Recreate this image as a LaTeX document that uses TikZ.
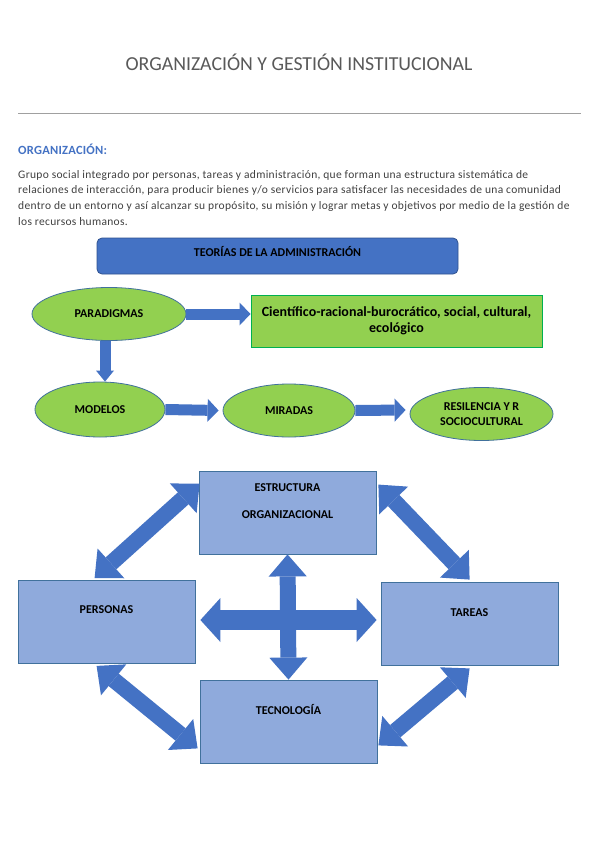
\documentclass[tikz,border=0pt]{standalone}
\usepackage{fontspec}
\setmainfont{Carlito}
\usetikzlibrary{arrows.meta,shapes.geometric,calc}
\definecolor{titlegray}{HTML}{595959}
\definecolor{rulegray}{HTML}{A0A0A0}
\definecolor{textgray}{HTML}{404040}
\definecolor{mainblue}{HTML}{4472C4}
\definecolor{darkblue}{HTML}{2F528F}
\definecolor{boxblue}{HTML}{8FAADC}
\definecolor{leaf}{HTML}{92D050}
\definecolor{ellline}{HTML}{41719C}
\definecolor{brightgreen}{HTML}{00B050}
\begin{document}
\begin{tikzpicture}[x=1pt,y=-1pt,
  lbl/.style={font=\bfseries\fontsize{12}{14}\selectfont, text=black},
  ell/.style={ellipse, draw=ellline, fill=leaf, line width=0.8pt, inner sep=0pt, align=center, lbl},
  sqbox/.style={rectangle, draw=ellline, fill=boxblue, line width=0.8pt, minimum width=177pt, minimum height=83pt, inner sep=0pt},
  para/.style={anchor=west, inner sep=0pt, text=textgray, font=\fontsize{11.5}{14}\selectfont\addfontfeatures{LetterSpace=2.7}},
  smallarrow/.style={draw=mainblue, line width=11pt, -{Triangle[width=23pt,length=11pt,line width=0pt]}},
  bigarrow/.style={draw=mainblue, line width=16pt, {Triangle[width=40pt,length=22pt,line width=0pt]}-{Triangle[width=40pt,length=22pt,line width=0pt]}},
  crossarrow/.style={draw=mainblue, line width=20pt, {Triangle[width=44pt,length=20pt,line width=0pt]}-{Triangle[width=44pt,length=20pt,line width=0pt]}}
]
\useasboundingbox[fill=white] (0,0) rectangle (599,848);

% title and rule
\node[text=titlegray, font=\fontsize{19.8}{24}\selectfont, inner sep=0pt] (title) at (299,62) {ORGANIZACIÓN Y GESTIÓN INSTITUCIONAL};
\coordinate (ruleL) at (18,113);
\coordinate (ruleR) at (581,113);
\draw[rulegray, line width=0.8pt] (ruleL) -- (ruleR);

% heading and paragraph
\node[anchor=west, inner sep=0pt, text=mainblue, font=\bfseries\fontsize{12.5}{14}\selectfont\addfontfeatures{LetterSpace=2}] (head) at (18,149) {ORGANIZACIÓN:};
\node[para] (p1) at (18,175) {Grupo social integrado por personas, tareas y administración, que forman una estructura sistemática de};
\node[para] (p2) at (18,190.5) {relaciones de interacción, para producir bienes y/o servicios para satisfacer las necesidades de una comunidad};
\node[para] (p3) at (18,206) {dentro de un entorno y así alcanzar su propósito, su misión y lograr metas y objetivos por medio de la gestión de};
\node[para] (p4) at (18,221.5) {los recursos humanos.};

% theories box
\node[rectangle, rounded corners=5pt, draw=darkblue, fill=mainblue, line width=0.8pt, minimum width=361pt, minimum height=36pt,
      label={[lbl, yshift=4pt]center:TEORÍAS DE LA ADMINISTRACIÓN}] (teo) at (277.5,256) {};

% ellipses
\node[ell, minimum width=154pt, minimum height=53pt] (para) at (109,314) {PARADIGMAS};
\node[rectangle, draw=brightgreen, fill=leaf, line width=1pt, minimum width=291pt, minimum height=52pt, align=center,
      font=\bfseries\fontsize{14}{16}\selectfont] (cien) at (396.5,321) {Científico-racional-burocrático, social, cultural,\\ecológico};
\node[ell, minimum width=130pt, minimum height=55pt] (mod) at (100,409.5) {MODELOS};
\node[ell, minimum width=132pt, minimum height=53pt] (mir) at (289,410.5) {MIRADAS};
\node[ell, minimum width=143pt, minimum height=53pt] (res) at (481.5,414) {RESILENCIA Y R\\[1pt]SOCIOCULTURAL};

\draw[smallarrow] (para.east) -- (cien.west |- para.east);
\draw[smallarrow, -{Triangle[width=18pt,length=11pt,line width=0pt]}] ($(para.south)+(-4,0)$) -- ($(mod.north)+(5,0)$);
\draw[smallarrow] (mod.east) -- ($(mir.west)+(-4,0)$);
\draw[smallarrow] (mir.east) -- ($(res.west)+(-4,-4)$);

% bottom diagram
\node[sqbox, label={[lbl, align=center, yshift=11pt]center:ESTRUCTURA\\[13pt]ORGANIZACIONAL}] (estr) at (287.5,512.5) {};
\node[sqbox, label={[lbl, yshift=12pt]center:PERSONAS}] (pers) at (106.5,622) {};
\node[sqbox, label={[lbl, yshift=11pt]center:TAREAS}] (tar) at (469.5,623.5) {};
\node[sqbox, label={[lbl, yshift=12pt]center:TECNOLOGÍA}] (tec) at (288.5,721.5) {};

% cross arrows
\draw[crossarrow, line width=16pt, {Triangle[width=38pt,length=22pt,line width=0pt]}-{Triangle[width=38pt,length=22pt,line width=0pt]}] (estr.south) -- (tec.north);
\draw[crossarrow] ($(pers.east)+(5,-2)$) -- ($(tar.west)+(-4,-3.5)$);

% diagonal arrows
\coordinate (tlA) at ($(estr.north west)+(1,13)$);
\coordinate (tlB) at ($(pers.north west)+(77,-2)$);
\coordinate (trA) at ($(estr.north east)+(2,14)$);
\coordinate (trB) at ($(tar.north west)+(89,-2)$);
\coordinate (blA) at ($(pers.south west)+(79,2)$);
\coordinate (blB) at ($(tec.south west)+(-2,-15)$);
\coordinate (brA) at ($(tar.south west)+(89,3)$);
\coordinate (brB) at ($(tec.south east)+(1,-18)$);
\draw[bigarrow] (tlA) -- (tlB);
\draw[bigarrow] (trA) -- (trB);
\draw[bigarrow] (blA) -- (blB);
\draw[bigarrow] (brA) -- (brB);
\end{tikzpicture}
\end{document}
